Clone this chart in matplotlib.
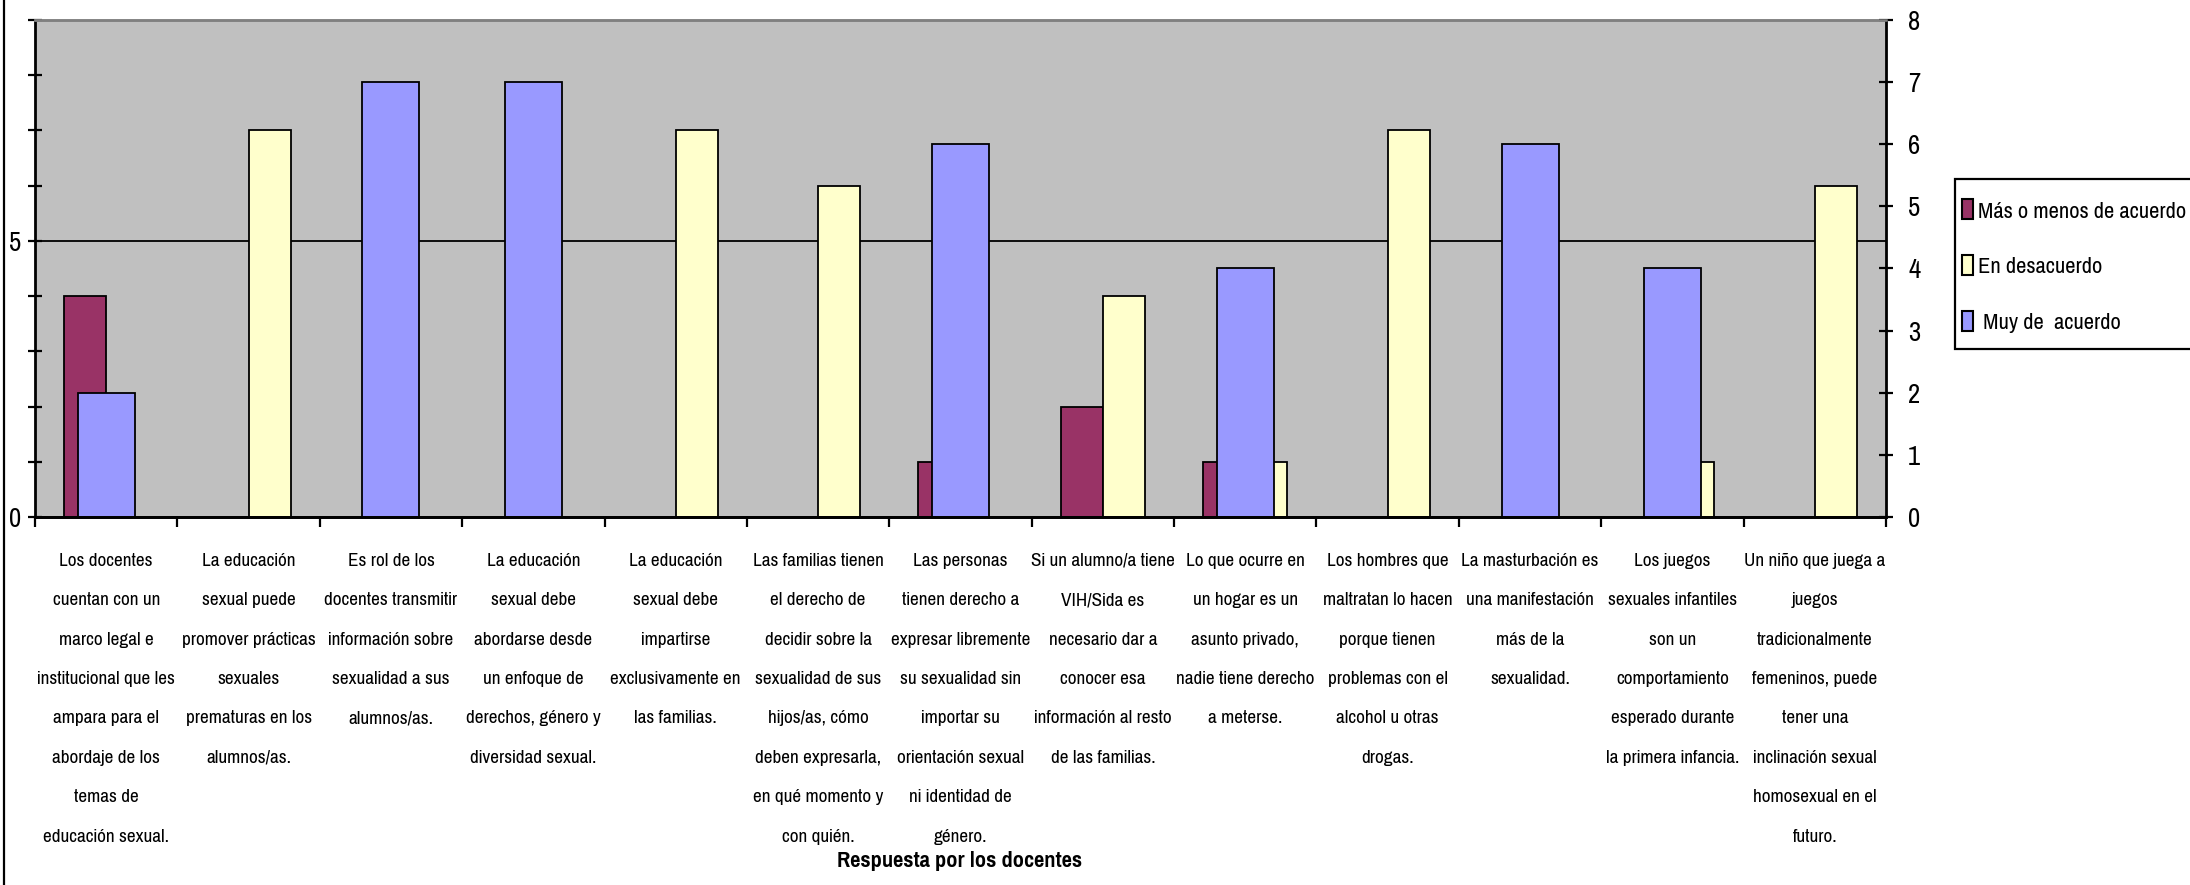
import numpy as np
import matplotlib
matplotlib.use("Agg")
import matplotlib.pyplot as plt
from matplotlib.patches import Rectangle
from matplotlib.lines import Line2D
from matplotlib.ticker import MultipleLocator, FixedLocator, NullFormatter

categories = [
    "Los docentes\ncuentan con un\nmarco legal e\ninstitucional que les\nampara para el\nabordaje de los\ntemas de\neducación sexual.",
    "La educación\nsexual puede\npromover prácticas\nsexuales\nprematuras en los\nalumnos/as.",
    "Es rol de los\ndocentes transmitir\ninformación sobre\nsexualidad a sus\nalumnos/as.",
    "La educación\nsexual debe\nabordarse desde\nun enfoque de\nderechos, género y\ndiversidad sexual.",
    "La educación\nsexual debe\nimpartirse\nexclusivamente en\nlas familias.",
    "Las familias tienen\nel derecho de\ndecidir sobre la\nsexualidad de sus\nhijos/as, cómo\ndeben expresarla,\nen qué momento y\ncon quién.",
    "Las personas\ntienen derecho a\nexpresar libremente\nsu sexualidad sin\nimportar su\norientación sexual\nni identidad de\ngénero.",
    "Si un alumno/a tiene\nVIH/Sida es\nnecesario dar a\nconocer esa\ninformación al resto\nde las familias.",
    "Lo que ocurre en\nun hogar es un\nasunto privado,\nnadie tiene derecho\na meterse.",
    "Los hombres que\nmaltratan lo hacen\nporque tienen\nproblemas con el\nalcohol u otras\ndrogas.",
    "La masturbación es\nuna manifestación\nmás de la\nsexualidad.",
    "Los juegos\nsexuales infantiles\nson un\ncomportamiento\nesperado durante\nla primera infancia.",
    "Un niño que juega a\njuegos\ntradicionalmente\nfemeninos, puede\ntener una\ninclinación sexual\nhomosexual en el\nfuturo.",
]

series_names = ["Más o menos de acuerdo", "En desacuerdo", " Muy de  acuerdo"]
mas_o_menos = [4, 0, 0, 0, 0, 0, 1, 2, 1, 0, 0, 0, 0]     # left axis
en_desacuerdo = [0, 7, 0, 0, 7, 6, 0, 4, 1, 7, 0, 1, 6]   # left axis
muy_de_acuerdo = [2, 0, 7, 7, 0, 0, 6, 0, 4, 0, 6, 4, 0]  # right axis

xlabel_text = "Respuesta por los docentes"

FONT = ["Pragati Narrow", "DejaVu Sans"]
plt.rcParams["font.family"] = FONT

W, H = 2190, 885
fig = plt.figure(figsize=(W / 100, H / 100), dpi=100)
fig.patch.set_facecolor("white")

L, R, T, B = 35, 1886, 20, 517
ax = fig.add_axes([L / W, 1 - B / H, (R - L) / W, (B - T) / H])
ax2 = ax.twinx()

red = "#993366"
yellow = "#FFFFCC"
blue = "#9999FF"

x = np.arange(len(categories))
wp = 0.295
ws = 0.40
ax.set_facecolor("#C0C0C0")
ax.bar(x - wp / 2, mas_o_menos, width=wp, color=red, edgecolor="black", linewidth=1.3, zorder=2)
ax.bar(x + wp / 2, en_desacuerdo, width=wp, color=yellow, edgecolor="black", linewidth=1.3, zorder=2)
ax2.bar(x, muy_de_acuerdo, width=ws, color=blue, edgecolor="black", linewidth=1.3, zorder=2)

ax.set_xlim(-0.5, len(categories) - 0.5)
ax.set_ylim(0, 9)
ax2.set_ylim(0, 8)

ax.yaxis.set_major_locator(MultipleLocator(5))
ax.yaxis.set_minor_locator(MultipleLocator(1))
ax.yaxis.grid(True, which="major", color="black", linewidth=1.3)
ax.set_axisbelow(True)
ax.tick_params(axis="y", which="both", direction="inout", length=10, width=1.6,
               labelsize=21, pad=5)

ax2.yaxis.set_major_locator(MultipleLocator(1))
ax2.tick_params(axis="y", direction="inout", length=10, width=1.6, labelsize=21, pad=11)

ax.xaxis.set_major_locator(FixedLocator(np.arange(-0.5, len(categories), 1.0)))
ax.xaxis.set_major_formatter(NullFormatter())
ax.tick_params(axis="x", direction="out", length=7, width=1.6)
ax2.tick_params(axis="x", length=0)

for s in ("left", "bottom"):
    ax.spines[s].set_linewidth(2)
    ax.spines[s].set_color("black")
ax.spines["top"].set_color("#808080")
ax.spines["top"].set_linewidth(1.8)
ax.spines["right"].set_visible(False)
ax2.spines["right"].set_linewidth(2)
ax2.spines["right"].set_color("black")
ax2.spines["top"].set_color("#808080")
ax2.spines["top"].set_linewidth(1.8)
ax2.spines["left"].set_visible(False)
ax2.spines["bottom"].set_linewidth(2)

for i, lab in enumerate(categories):
    ax.text(i, -0.072, lab, transform=ax.get_xaxis_transform(), ha="center", va="top",
            fontsize=15, linespacing=2.8, multialignment="center")

fig.text(960 / W, 1 - 861 / H, xlabel_text, ha="center", va="center",
         fontsize=17.5, fontweight="bold")

# legend box
fig.add_artist(Rectangle((1955 / W, 1 - 349 / H), (W - 1955 + 20) / W, 170 / H,
                         transform=fig.transFigure, facecolor="white", edgecolor="black",
                         linewidth=1.6, zorder=3))
handles = [Rectangle((0, 0), 1, 1, facecolor=c, edgecolor="black", linewidth=1.5)
           for c in (red, yellow, blue)]
leg = fig.legend(handles, series_names, loc="upper left",
                 bbox_to_anchor=(1962 / W, 1 - 199 / H), frameon=False,
                 fontsize=17.6, handlelength=0.47, handleheight=0.9,
                 handletextpad=0.2, labelspacing=1.36, borderpad=0, borderaxespad=0)
leg.set_zorder(4)

fig.add_artist(Line2D([4 / W, 4 / W], [0, 1], transform=fig.transFigure, color="black",
                      linewidth=1.6))

fig.savefig("out.png", dpi=100)
